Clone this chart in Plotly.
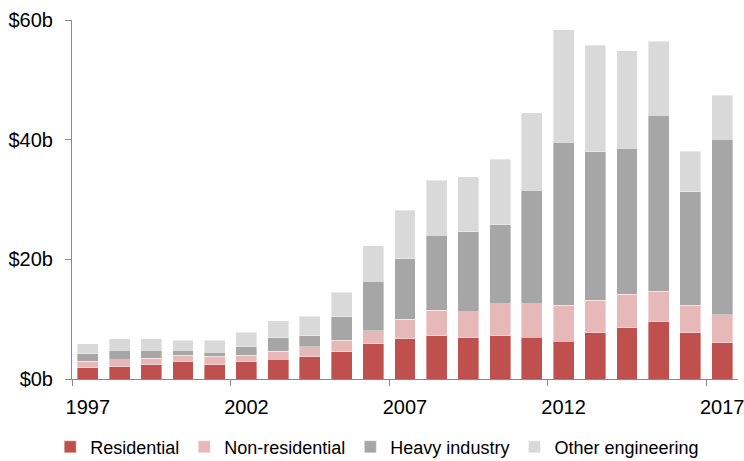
import plotly.graph_objects as go

years = list(range(1997, 2018))
residential = [1.9, 2.05, 2.35, 2.9, 2.4, 2.9, 3.3, 3.7, 4.55, 5.9, 6.7, 7.2, 6.9, 7.2, 7.0, 6.35, 7.75, 8.55, 9.6, 7.75, 6.1]
non_residential = [1.1, 1.15, 1.15, 1.1, 1.4, 1.1, 1.3, 1.7, 1.95, 2.2, 3.3, 4.3, 4.3, 5.4, 5.6, 6.0, 5.45, 5.6, 5.1, 4.6, 4.6]
heavy_industry = [1.2, 1.6, 1.3, 0.8, 0.7, 1.4, 2.3, 1.8, 3.9, 8.2, 10.1, 12.5, 13.4, 13.2, 18.95, 27.25, 24.8, 24.4, 29.35, 18.95, 29.4]
other_engineering = [1.7, 1.9, 1.9, 1.65, 1.95, 2.4, 2.8, 3.3, 4.1, 5.95, 8.1, 9.2, 9.2, 10.9, 12.95, 18.8, 17.75, 16.3, 12.4, 6.8, 7.3]

x_label_years = [1997, 2002, 2007, 2012, 2017]
x_boundaries = [1996.5, 2001.5, 2006.5, 2011.5, 2016.5]
y_ticks = [0, 20, 40, 60]
y_tick_labels = ["$0b", "$20b", "$40b", "$60b"]

series = [
    ("Residential", residential, "#C0504D"),
    ("Non-residential", non_residential, "#E6B9B8"),
    ("Heavy industry", heavy_industry, "#A6A6A6"),
    ("Other engineering", other_engineering, "#D9D9D9"),
]

fig = go.Figure()
for name, vals, color in series:
    fig.add_trace(go.Bar(
        x=years, y=vals, name=name,
        marker=dict(color=color, line=dict(color="rgba(255,255,255,0.6)", width=0.6)),
    ))

axis_color = "#898989"
font_family = "Liberation Sans, Arial, sans-serif"

fig.update_layout(
    barmode="stack",
    bargap=0.34,
    width=744, height=461,
    margin=dict(l=72, r=6, t=20, b=82, autoexpand=False),
    paper_bgcolor="white", plot_bgcolor="white",
    font=dict(family=font_family, size=20, color="#000000"),
    showlegend=True,
    legend=dict(
        orientation="h", xref="container", x=0.507, xanchor="center",
        yref="container", y=0.03, yanchor="middle",
        font=dict(size=18), traceorder="normal",
        itemwidth=30, tracegroupgap=0,
    ),
    xaxis=dict(
        range=[1996.5, 2017.5], automargin=False,
        tickmode="array", tickvals=x_label_years, ticktext=[str(y) for y in x_label_years],
        ticks="", showgrid=False, zeroline=False,
        showline=True, linecolor=axis_color, linewidth=1,
        ticklabelstandoff=10, ticklabeloverflow="allow",
        minor=dict(tickmode="array", tickvals=x_boundaries, ticks="outside", ticklen=6,
                   tickcolor=axis_color, tickwidth=1, showgrid=False),
    ),
    yaxis=dict(
        range=[0, 60], automargin=False,
        tickmode="array", tickvals=y_ticks, ticktext=y_tick_labels,
        ticks="outside", ticklen=6, tickcolor=axis_color, tickwidth=1,
        showgrid=False, zeroline=False,
        showline=True, linecolor=axis_color, linewidth=1,
        ticklabelstandoff=8,
    ),
)

fig.write_html(
    "out.html",
    config={"displayModeBar": False},
    post_script="document.body.style.margin='0';document.body.style.overflow='hidden';",
)
